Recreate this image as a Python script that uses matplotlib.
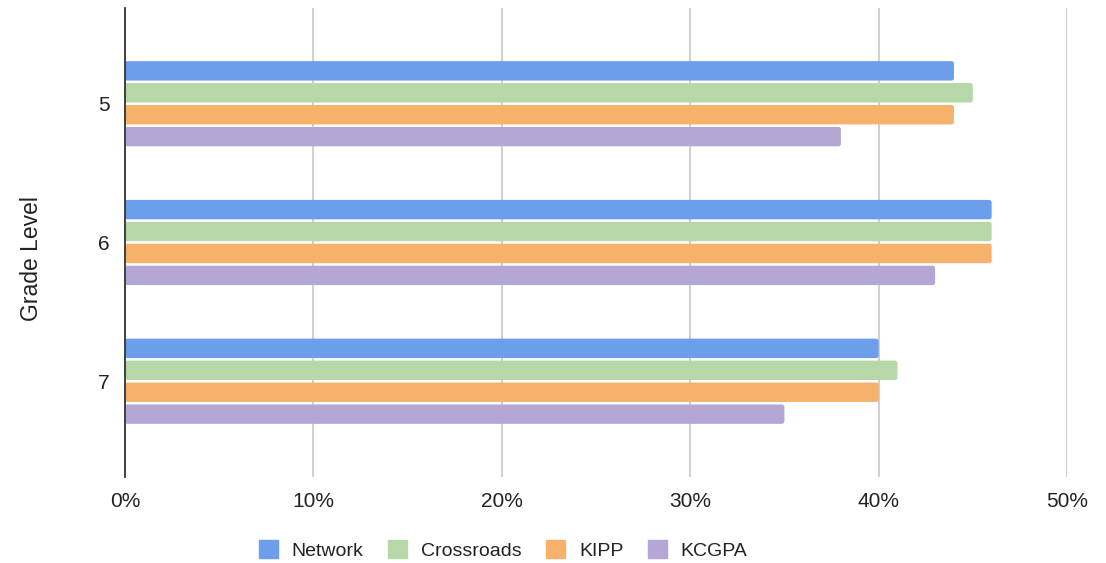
import matplotlib
matplotlib.use("Agg")
import matplotlib.pyplot as plt
import numpy as np
from matplotlib.ticker import FuncFormatter
from matplotlib.patches import FancyBboxPatch

plt.rcParams['font.family'] = ['Liberation Sans', 'DejaVu Sans']

grades = ["5", "6", "7"]
series_names = ["Network", "Crossroads", "KIPP", "KCGPA"]
network = [44, 46, 40]
crossroads = [45, 46, 41]
kipp = [44, 46, 40]
kcgpa = [38, 43, 35]
values = [network, crossroads, kipp, kcgpa]
colors = ["#6d9eeb", "#b6d7a8", "#f6b26b", "#b4a7d6"]
xticks = [0, 10, 20, 30, 40, 50]

W, H = 1106, 563
fig = plt.figure(figsize=(W / 100, H / 100), dpi=100)
ax_left, ax_right, ax_top, ax_bottom = 125, 1067, 8, 477
ax = fig.add_axes([ax_left / W, 1 - ax_bottom / H, (ax_right - ax_left) / W, (ax_bottom - ax_top) / H])

xmin, xmax = 0, 50
ymin, ymax = -0.69, 2.69
px_per_x = (ax_right - ax_left) / (xmax - xmin)
px_per_y = (ax_bottom - ax_top) / (ymax - ymin)

pitch = 0.158
height = 0.14
y = np.arange(len(grades))
radius_px = 2.5
for i, (name, vals, c) in enumerate(zip(series_names, values, colors)):
    bars = ax.barh(y + (i - 1.5) * pitch, vals, height=height, color=c, label=name, zorder=3)
    for b in bars:
        b.set_visible(False)
        fb = FancyBboxPatch((b.get_x(), b.get_y()), b.get_width(), b.get_height(),
                            boxstyle=f"round,pad=0,rounding_size={radius_px / px_per_x}",
                            mutation_aspect=px_per_x / px_per_y,
                            facecolor=c, edgecolor='none', zorder=3)
        ax.add_patch(fb)

ax.set_xlim(xmin, xmax)
ax.set_ylim(ymax, ymin)
ax.set_xticks(xticks)
ax.xaxis.set_major_formatter(FuncFormatter(lambda v, p: f"{int(v)}%"))
ax.set_yticks(y)
ax.set_yticklabels(grades)
ax.grid(axis='x', color='#cccccc', linewidth=1.3, zorder=0)
for s in ['top', 'right', 'bottom']:
    ax.spines[s].set_visible(False)
ax.spines['left'].set_color('#333333')
ax.spines['left'].set_linewidth(1.3)
ax.spines['left'].set_zorder(4)
ax.tick_params(axis='both', length=0, labelsize=15, colors='#222222')
ax.tick_params(axis='x', pad=11)
ax.tick_params(axis='y', pad=11)
ax.set_ylabel("Grade Level", fontsize=16.5, color='#222222')
ax.yaxis.set_label_coords((43 - ax_left) / (ax_right - ax_left), 1 - (259 - ax_top) / (ax_bottom - ax_top))

handles = [plt.Rectangle((0, 0), 1, 1, color=c) for c in colors]
fig.legend(handles, series_names, loc='center', bbox_to_anchor=(503 / W, 1 - 550 / H), ncol=4,
           frameon=False, fontsize=14, handlelength=1.0, handleheight=1.0, handletextpad=0.7,
           columnspacing=1.25, labelcolor='#222222')

fig.savefig("out.png", dpi=100)
